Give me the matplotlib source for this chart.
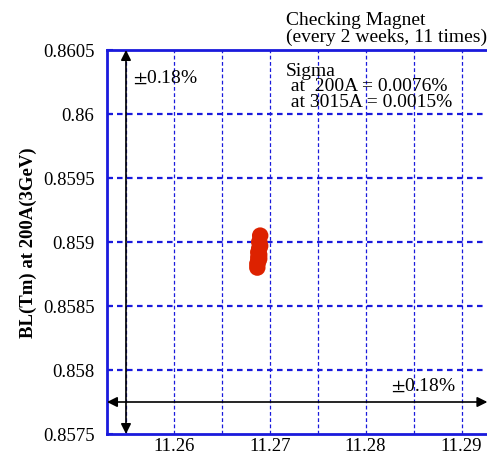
import matplotlib
matplotlib.use("Agg")
import matplotlib.pyplot as plt
import numpy as np

# data
bl_x = [11.2690, 11.2689, 11.2690, 11.2689, 11.2688, 11.2689, 11.2688, 11.2689, 11.2688, 11.2687, 11.2687]
bl_y = [0.85905, 0.85900, 0.85897, 0.85895, 0.85892, 0.85890, 0.85888, 0.85887, 0.85885, 0.85883, 0.85880]
x_ticks = [11.26, 11.27, 11.28, 11.29]
y_ticks = [0.8575, 0.858, 0.8585, 0.859, 0.8595, 0.86, 0.8605]
y_ticklabels = ["0.8575", "0.858", "0.8585", "0.859", "0.8595", "0.86", "0.8605"]
x_minor_grid = [11.255, 11.265, 11.275, 11.285]

plt.rcParams['font.family'] = ['Liberation Serif', 'DejaVu Serif']
plt.rcParams['mathtext.fontset'] = 'stix'

fig = plt.figure(figsize=(4.87, 4.56), dpi=100)
ax = fig.add_axes([107/487, 1-435/456, 1 - 107/487 + 0.001, (435-51)/456])

blue = '#1a1adc'
ax.set_xlim(11.25302, 11.29271)
ax.set_ylim(0.8575, 0.8605)

for yv in y_ticks[1:-1]:
    ax.axhline(yv, color=blue, lw=1.6, ls=(0, (2.5, 2.0)), zorder=1)
for xv in x_ticks + x_minor_grid:
    ax.axvline(xv, color=blue, lw=0.9, ls=(0, (3, 2)), zorder=1)

ax.scatter(bl_x, bl_y, s=140, color='#dd2200', edgecolors='none', zorder=5)

for side in ['left', 'bottom', 'top']:
    ax.spines[side].set_color(blue)
    ax.spines[side].set_linewidth(2)
ax.spines['right'].set_visible(False)

ax.set_xticks(x_ticks)
ax.set_xticklabels([f"{v:.2f}" for v in x_ticks])
ax.set_yticks(y_ticks)
ax.set_yticklabels(y_ticklabels)
ax.tick_params(axis='y', direction='in', length=4, width=1.5, color=blue, pad=9, labelsize=13.5)
ax.tick_params(axis='x', direction='in', length=0, pad=2, labelsize=13.5)

ax.set_ylabel("BL(Tm) at 200A(3GeV)", fontsize=13.5, fontweight='bold', labelpad=4)

# arrows
ax.annotate('', xy=(11.255, 0.8605), xytext=(11.255, 0.8575),
            arrowprops=dict(arrowstyle='<|-|>', color='black', lw=1.2,
                            mutation_scale=15, shrinkA=0, shrinkB=0), zorder=6)
ax.annotate('', xy=(11.25302, 0.85775), xytext=(11.2927, 0.85775),
            arrowprops=dict(arrowstyle='<|-|>', color='black', lw=1.2,
                            mutation_scale=15, shrinkA=0, shrinkB=0), zorder=6)

ax.text(11.2557, 0.86029, r"$\pm$0.18%", fontsize=14, va='center', ha='left')
ax.text(11.2826, 0.85788, r"$\pm$0.18%", fontsize=14, va='center', ha='left')

fig.text(286/487, 1 - 12/456, "Checking Magnet\n(every 2 weeks, 11 times)", fontsize=14,
         va='top', ha='left', linespacing=0.95)
ax.text(11.27167, 0.86041, "Sigma\n at  200A = 0.0076%\n at 3015A = 0.0015%", fontsize=14,
        va='top', ha='left', linespacing=0.92)

fig.savefig("out.png", dpi=100)
